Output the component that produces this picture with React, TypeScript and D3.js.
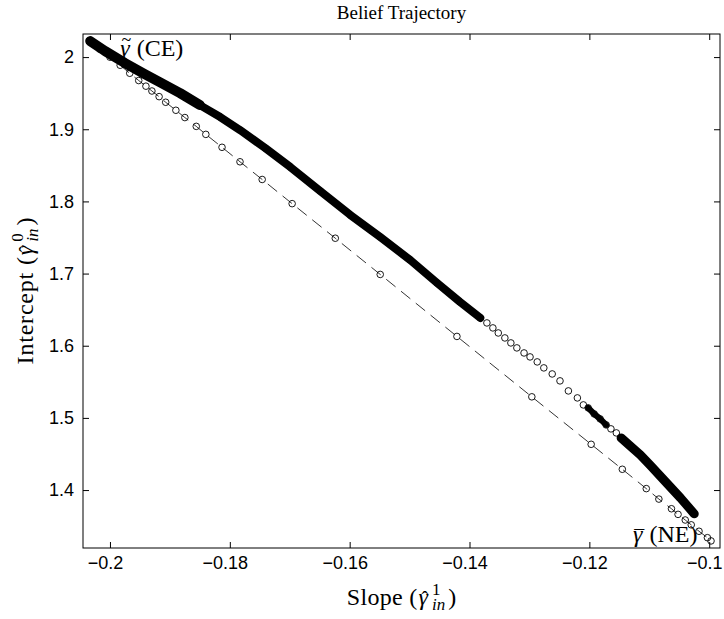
import { useEffect, useRef } from "react";
import * as d3 from "d3";

// dashed straight path from the CE point to the NE point (slope, intercept)
const pathSlope = [
  -0.2033, -0.2017, -0.2, -0.1983, -0.1967, -0.1952, -0.194, -0.193, -0.1918,
  -0.1907, -0.189, -0.1875, -0.1856, -0.184, -0.1813, -0.1783, -0.1746,
  -0.1696, -0.1624, -0.1549, -0.1421, -0.1296, -0.1197, -0.1145, -0.1105,
  -0.1084, -0.1063, -0.1052, -0.104, -0.103, -0.1017, -0.1003, -0.0997,
];
const pathIntercept = [
  2.0222, 2.011, 1.9999, 1.9887, 1.9776, 1.9675, 1.9597, 1.953, 1.9452,
  1.9374, 1.9263, 1.9162, 1.904, 1.8929, 1.875, 1.8549, 1.8304, 1.7969,
  1.749, 1.6988, 1.6129, 1.5292, 1.4634, 1.4288, 1.402, 1.3875, 1.3741,
  1.3663, 1.3585, 1.3518, 1.3429, 1.334, 1.3295,
];

// belief trajectory, thick stretch right after the CE point
const denseSlopeA1 = [-0.2033, -0.2008, -0.1975, -0.1942, -0.1917, -0.1883, -0.185];
const denseInterceptA1 = [2.0222, 2.0083, 1.9917, 1.9765, 1.9654, 1.9501, 1.9335];

// dense stretch down to about slope -0.138
const denseSlopeA2 = [
  -0.185, -0.1816, -0.1783, -0.1741, -0.1699, -0.1649, -0.1599, -0.1549,
  -0.1499, -0.1454, -0.1416, -0.1382,
];
const denseInterceptA2 = [
  1.9335, 1.9169, 1.8989, 1.874, 1.8476, 1.8144, 1.7812, 1.7507, 1.7188,
  1.687, 1.6607, 1.6385,
];

// sparse stretch in the middle
const sparseSlopeB = [
  -0.1371, -0.1361, -0.1352, -0.1341, -0.1331, -0.1321, -0.1309, -0.1299,
  -0.1287, -0.1276, -0.1262, -0.1249, -0.1235, -0.122, -0.121,
];
const sparseInterceptB = [
  1.6316, 1.6247, 1.6177, 1.6108, 1.6039, 1.597, 1.59, 1.5845, 1.5776,
  1.5693, 1.5609, 1.5513, 1.5374, 1.5277, 1.518,
];

// small cluster near slope -0.12
const denseSlopeC = [-0.1202, -0.1192, -0.1182, -0.1172];
const denseInterceptC = [1.5139, 1.5055, 1.4986, 1.4903];

const sparseSlopeD = [-0.1164, -0.1155];
const sparseInterceptD = [1.4848, 1.4792];

// dense stretch close to the NE point
const denseSlopeE = [
  -0.1147, -0.1132, -0.1115, -0.1099, -0.1082, -0.1065, -0.1048, -0.1035,
  -0.1025,
];
const denseInterceptE = [
  1.4723, 1.4612, 1.4488, 1.4349, 1.4197, 1.4044, 1.3892, 1.3767, 1.367,
];

const xTicks = [-0.2, -0.18, -0.16, -0.14, -0.12, -0.1];
const xTickLabels = ["\u22120.2", "\u22120.18", "\u22120.16", "\u22120.14", "\u22120.12", "\u22120.1"];
const yTicks = [1.4, 1.5, 1.6, 1.7, 1.8, 1.9, 2];
const yTickLabels = ["1.4", "1.5", "1.6", "1.7", "1.8", "1.9", "2"];

type Pt = [number, number];
const zip = (a: number[], b: number[]): Pt[] => a.map((v, i) => [v, b[i]]);

const serif = "'Liberation Serif', 'Times New Roman', serif";
const sans = "'Liberation Sans', Arial, sans-serif";

// piece of a small math label: accent is centred over the previous piece,
// stack starts at the same x as the previous piece (sub under sup)
type Piece = {
  t: string;
  fs: number;
  it?: boolean;
  dy?: number;
  dx?: number;
  ls?: number;
  accent?: boolean;
  stack?: boolean;
};

function mathText(
  parent: d3.Selection<SVGGElement, unknown, null, undefined>,
  pieces: Piece[]
) {
  const g = parent.append("g");
  let cursor = 0;
  let prevX = 0;
  let prevW = 0;
  pieces.forEach((p) => {
    const el = g
      .append("text")
      .attr("font-family", serif)
      .attr("font-size", p.fs)
      .attr("font-style", p.it ? "italic" : "normal")
      .attr("letter-spacing", p.ls ?? 0)
      .attr("fill", "#000")
      .text(p.t);
    const w = (el.node() as SVGTextElement).getComputedTextLength();
    let px: number;
    if (p.accent) px = prevX + (prevW - w) / 2 + (p.dx ?? 0);
    else if (p.stack) px = prevX + (p.dx ?? 0);
    else px = cursor + (p.dx ?? 0);
    el.attr("x", px).attr("y", p.dy ?? 0);
    if (!p.accent) {
      cursor = p.stack ? Math.max(cursor, px + w) : px + w;
      prevX = px;
      prevW = w;
    }
  });
  return { g, width: cursor };
}

export default function App() {
  const ref = useRef<HTMLDivElement>(null);

  useEffect(() => {
    if (!ref.current) return;
    const container = ref.current;
    container.innerHTML = "";

    const width = 724;
    const height = 619;
    const margin = { top: 34, right: 4, bottom: 71, left: 83 };

    const svg = d3
      .select(container)
      .append("svg")
      .attr("width", width)
      .attr("height", height)
      .style("position", "absolute")
      .style("left", "0px")
      .style("top", "0px")
      .style("background", "#fff");

    const x = d3
      .scaleLinear()
      .domain([-0.2045, -0.0982])
      .range([margin.left, width - margin.right]);
    const y = d3
      .scaleLinear()
      .domain([1.3197, 2.032])
      .range([height - margin.bottom, margin.top]);

    const line = d3
      .line<Pt>()
      .x((d) => x(d[0]))
      .y((d) => y(d[1]));

    const plot = svg.append("g");

    // dashed path with markers
    const path = zip(pathSlope, pathIntercept);
    plot
      .append("path")
      .datum(path)
      .attr("fill", "none")
      .attr("stroke", "#000")
      .attr("stroke-width", 0.8)
      .attr("stroke-dasharray", "12,7")
      .attr("d", line);

    const drawCircles = (pts: Pt[]) =>
      plot
        .append("g")
        .selectAll("circle")
        .data(pts)
        .join("circle")
        .attr("cx", (d) => x(d[0]))
        .attr("cy", (d) => y(d[1]))
        .attr("r", 3.3)
        .attr("fill", "none")
        .attr("stroke", "#000")
        .attr("stroke-width", 0.9);

    drawCircles(path);

    // trajectory: dense stretches as a solid band, plus markers
    const dense: [Pt[], number][] = [
      [zip(denseSlopeA1, denseInterceptA1), 10],
      [zip(denseSlopeA2, denseInterceptA2), 8],
      [zip(denseSlopeC, denseInterceptC), 6],
      [zip(denseSlopeE, denseInterceptE), 9],
    ];
    dense.forEach(([pts, w]) => {
      plot
        .append("path")
        .datum(pts)
        .attr("fill", "none")
        .attr("stroke", "#000")
        .attr("stroke-width", w)
        .attr("stroke-linecap", "round")
        .attr("stroke-linejoin", "round")
        .attr("d", line);
      drawCircles(pts);
    });
    drawCircles(zip(sparseSlopeB, sparseInterceptB));
    drawCircles(zip(sparseSlopeD, sparseInterceptD));

    // axes box with inward ticks
    const axes = svg.append("g");
    axes
      .append("g")
      .attr("transform", `translate(0,${height - margin.bottom})`)
      .call(
        d3
          .axisBottom(x)
          .tickValues(xTicks)
          .tickSizeInner(-6)
          .tickSizeOuter(0)
          .tickPadding(8)
          .tickFormat((_, i) => xTickLabels[i])
      )
      .selectAll("text")
      .attr("dx", -5);
    axes
      .append("g")
      .attr("transform", `translate(0,${margin.top})`)
      .call(
        d3.axisTop(x).tickValues(xTicks).tickSizeInner(-6).tickSizeOuter(0).tickFormat(() => "")
      );
    axes
      .append("g")
      .attr("transform", `translate(${margin.left},0)`)
      .call(
        d3
          .axisLeft(y)
          .tickValues(yTicks)
          .tickSizeInner(-6)
          .tickSizeOuter(0)
          .tickPadding(9)
          .tickFormat((_, i) => yTickLabels[i])
      );
    axes
      .append("g")
      .attr("transform", `translate(${width - margin.right},0)`)
      .call(
        d3.axisRight(y).tickValues(yTicks).tickSizeInner(-6).tickSizeOuter(0).tickFormat(() => "")
      );
    axes.selectAll(".domain").remove();
    axes.selectAll("line").attr("stroke", "#000");
    axes
      .selectAll("text")
      .attr("font-family", sans)
      .attr("font-size", 18)
      .attr("fill", "#000");

    svg
      .append("rect")
      .attr("x", margin.left)
      .attr("y", margin.top)
      .attr("width", width - margin.left - margin.right)
      .attr("height", height - margin.top - margin.bottom)
      .attr("fill", "none")
      .attr("stroke", "#000")
      .attr("stroke-width", 1);

    const midX = (margin.left + width - margin.right) / 2;
    const midY = (margin.top + height - margin.bottom) / 2;
    const fs = 24;
    const small = 17;

    // title
    svg
      .append("text")
      .attr("x", midX)
      .attr("y", 19)
      .attr("text-anchor", "middle")
      .attr("font-family", serif)
      .attr("font-size", 19)
      .text("Belief Trajectory");

    const labels = svg.append("g");

    const hatGamma = (sup: string): Piece[] => [
      { t: "\u03B3", fs, it: true, dx: 1 },
      { t: "\u02C6", fs: 20, dy: 1, dx: 1.5, accent: true },
      { t: sup, fs: small, dy: -10, dx: 4 },
      { t: "in", fs: small, it: true, dy: 5, stack: true },
      { t: ")", fs, dx: 3 },
    ];

    // x label
    const xl = mathText(labels, [{ t: "Slope (", fs, ls: 0.3 }, ...hatGamma("1")]);
    xl.g.attr("transform", `translate(${midX - xl.width / 2},605)`);

    // y label
    const yl = mathText(labels, [{ t: "Intercept (", fs, ls: 0.8 }, ...hatGamma("0")]);
    yl.g.attr("transform", `translate(33,${midY}) rotate(-90) translate(${-yl.width / 2},0)`);

    // equilibrium labels
    const ce = mathText(labels, [
      { t: "\u03B3", fs, it: true },
      { t: "~", fs: 18, dy: -10, dx: 1.5, accent: true },
      { t: "(CE)", fs, dx: 7 },
    ]);
    ce.g.attr("transform", `translate(${x(pathSlope[0]) + 30},${y(pathIntercept[0]) + 15})`);

    const last = pathSlope.length - 1;
    const ne = mathText(labels, [
      { t: "\u03B3", fs, it: true },
      { t: "\u00AF", fs: 20, dy: 3, dx: 1.5, accent: true },
      { t: "(NE)", fs, dx: 7 },
    ]);
    ne.g.attr("transform", `translate(${x(pathSlope[last]) - 78},${y(pathIntercept[last]) + 1})`);

    return () => {
      container.innerHTML = "";
    };
  }, []);

  return <div ref={ref} />;
}
